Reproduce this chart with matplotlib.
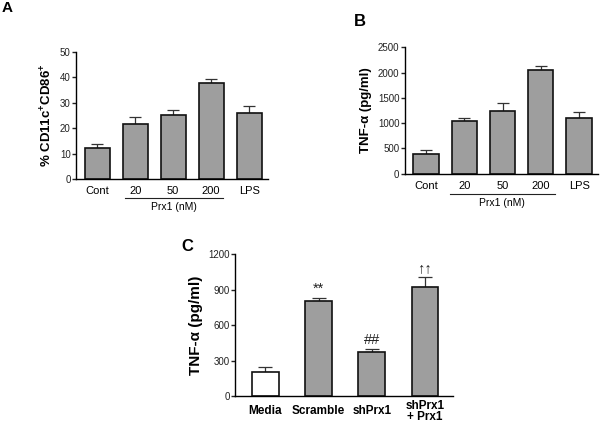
import matplotlib
matplotlib.use('Agg')
import matplotlib.pyplot as plt
import matplotlib.transforms as mtransforms
import numpy as np

plt.rcParams['font.family'] = ['Liberation Sans', 'DejaVu Sans']
plt.rcParams['mathtext.fontset'] = 'custom'
plt.rcParams['mathtext.rm'] = 'Liberation Sans'
plt.rcParams['mathtext.bf'] = 'Liberation Sans:bold'

# Panel A / B: Prx1 dose response
dose_labels = ['Cont', '20', '50', '200', 'LPS']
cd86_mean = [12.1, 21.7, 25.0, 37.9, 25.8]
cd86_err = [1.5, 2.6, 2.0, 1.6, 2.8]
tnf_mean = [400, 1040, 1235, 2050, 1105]
tnf_err = [70, 58, 162, 84, 110]

# Panel C: knockdown
kd_labels = ['Media', 'Scramble', 'shPrx1', 'shPrx1\n+ Prx1']
kd_mean = [205, 800, 370, 920]
kd_err = [40, 26, 25, 83]
kd_marks = ['', '**', '##', '\u2191\u2191']

bar_grey = '#9e9e9e'


def style_axes(ax):
    ax.spines['top'].set_visible(False)
    ax.spines['right'].set_visible(False)
    ax.spines['left'].set_linewidth(1.0)
    ax.spines['bottom'].set_linewidth(1.0)
    ax.tick_params(axis='y', length=3, width=1.0, pad=1, labelsize=7, colors='#222222')
    ax.tick_params(axis='x', length=0, pad=5)


def dose_panel(ax, means, errs, ylim, yticks, ylabel, line_x, line_y):
    x = np.arange(len(means))
    ax.bar(x, means, width=0.66, color=bar_grey, edgecolor='#111111', linewidth=1.2, zorder=2)
    ax.errorbar(x, means, yerr=[np.zeros(len(errs)), errs], fmt='none', ecolor='#333333',
                elinewidth=0.9, capsize=4, capthick=0.9, zorder=1)
    ax.set_ylim(*ylim)
    ax.set_yticks(yticks)
    ax.set_xlim(-0.55, 4.5)
    ax.set_xticks(x)
    ax.set_xticklabels(dose_labels, fontsize=8)
    ax.set_ylabel(ylabel, fontsize=9.5, fontweight='bold', labelpad=4)
    style_axes(ax)
    trans = mtransforms.blended_transform_factory(ax.transData, ax.transAxes)
    ax.plot(line_x, [line_y, line_y], color='#222222', lw=0.8, transform=trans, clip_on=False)
    ax.text(np.mean(line_x), line_y - 0.035, 'Prx1 (nM)', transform=trans, ha='center', va='top',
            fontsize=7.5)


fig = plt.figure(figsize=(6, 4.25), dpi=100)

axA = fig.add_axes([0.127, 0.579, 0.320, 0.299])
dose_panel(axA, cd86_mean, cd86_err, (0, 50), [0, 10, 20, 30, 40, 50],
           r'% CD11c$^{\mathbf{+}}$CD86$^{\mathbf{+}}$', [0.74, 3.3], -0.15)

axB = fig.add_axes([0.675, 0.591, 0.322, 0.298])
dose_panel(axB, tnf_mean, tnf_err, (0, 2500), [0, 500, 1000, 1500, 2000, 2500],
           'TNF-\u03b1 (pg/ml)', [0.62, 3.37], -0.157)

axC = fig.add_axes([0.392, 0.068, 0.363, 0.334])
xc = np.arange(len(kd_mean))
colors = ['white'] + [bar_grey] * (len(kd_mean) - 1)
axC.bar(xc, kd_mean, width=0.5, color=colors, edgecolor='#111111', linewidth=1.2, zorder=2)
axC.errorbar(xc, kd_mean, yerr=[np.zeros(len(kd_err)), kd_err], fmt='none', ecolor='#333333',
             elinewidth=0.9, capsize=5, capthick=0.9, zorder=1)
for xi, m, e, s in zip(xc, kd_mean, kd_err, kd_marks):
    axC.text(xi, m + e + 18, s, ha='center', va='bottom', fontsize=10.5, color='#222222')
axC.set_ylim(0, 1200)
axC.set_yticks([0, 300, 600, 900, 1200])
axC.set_xlim(-0.57, 3.53)
axC.set_xticks(xc)
axC.set_xticklabels(kd_labels, fontsize=8.5, fontweight='bold', linespacing=0.95, va='center')
axC.set_ylabel('TNF-\u03b1 (pg/ml)', fontsize=11, fontweight='bold', labelpad=4)
style_axes(axC)
axC.tick_params(axis='x', pad=11)

fig.text(0.003, 0.997, 'A', fontsize=11, fontweight='bold', va='top')
fig.text(0.590, 0.967, 'B', fontsize=12, fontweight='bold', va='top')
fig.text(0.302, 0.437, 'C', fontsize=12, fontweight='bold', va='top')

fig.savefig('out.png', dpi=100)
